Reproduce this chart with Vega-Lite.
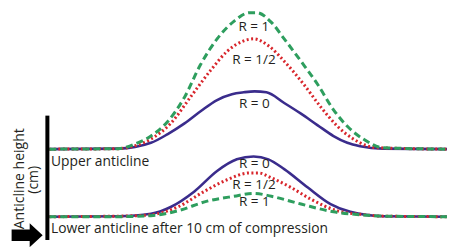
{
  "$schema": "https://vega.github.io/schema/vega-lite/v6.json",
  "width": 453,
  "height": 247,
  "padding": 0,
  "autosize": {"type": "fit", "contains": "padding"},
  "background": "white",
  "config": {"view": {"stroke": null}},
  "datasets": {
    "curves": [
      {"R": "0", "anticline": "upper", "x": 11.04, "y": 9.35},
      {"R": "0", "anticline": "upper", "x": 26.49, "y": 9.4},
      {"R": "0", "anticline": "upper", "x": 33.77, "y": 10.0},
      {"R": "0", "anticline": "upper", "x": 37.53, "y": 10.9},
      {"R": "0", "anticline": "upper", "x": 41.28, "y": 12.0},
      {"R": "0", "anticline": "upper", "x": 45.03, "y": 13.3},
      {"R": "0", "anticline": "upper", "x": 48.57, "y": 14.4},
      {"R": "0", "anticline": "upper", "x": 51.88, "y": 15.0},
      {"R": "0", "anticline": "upper", "x": 54.53, "y": 15.2},
      {"R": "0", "anticline": "upper", "x": 56.95, "y": 15.3},
      {"R": "0", "anticline": "upper", "x": 59.6, "y": 15.2},
      {"R": "0", "anticline": "upper", "x": 63.58, "y": 14.1},
      {"R": "0", "anticline": "upper", "x": 67.33, "y": 13.0},
      {"R": "0", "anticline": "upper", "x": 71.08, "y": 11.8},
      {"R": "0", "anticline": "upper", "x": 74.61, "y": 10.7},
      {"R": "0", "anticline": "upper", "x": 77.7, "y": 10.0},
      {"R": "0", "anticline": "upper", "x": 80.57, "y": 9.65},
      {"R": "0", "anticline": "upper", "x": 85.65, "y": 9.4},
      {"R": "0", "anticline": "upper", "x": 100, "y": 9.35},

      {"R": "1/2", "anticline": "upper", "x": 11.04, "y": 9.35},
      {"R": "1/2", "anticline": "upper", "x": 26.49, "y": 9.4},
      {"R": "1/2", "anticline": "upper", "x": 30.24, "y": 9.7},
      {"R": "1/2", "anticline": "upper", "x": 33.77, "y": 10.4},
      {"R": "1/2", "anticline": "upper", "x": 38.19, "y": 12.0},
      {"R": "1/2", "anticline": "upper", "x": 42.6, "y": 14.7},
      {"R": "1/2", "anticline": "upper", "x": 47.02, "y": 17.4},
      {"R": "1/2", "anticline": "upper", "x": 50.77, "y": 19.4},
      {"R": "1/2", "anticline": "upper", "x": 54.53, "y": 20.5},
      {"R": "1/2", "anticline": "upper", "x": 56.73, "y": 20.7},
      {"R": "1/2", "anticline": "upper", "x": 60.04, "y": 20.0},
      {"R": "1/2", "anticline": "upper", "x": 63.58, "y": 18.4},
      {"R": "1/2", "anticline": "upper", "x": 67.99, "y": 16.0},
      {"R": "1/2", "anticline": "upper", "x": 71.74, "y": 13.7},
      {"R": "1/2", "anticline": "upper", "x": 75.5, "y": 11.7},
      {"R": "1/2", "anticline": "upper", "x": 79.03, "y": 10.4},
      {"R": "1/2", "anticline": "upper", "x": 84.33, "y": 9.5},
      {"R": "1/2", "anticline": "upper", "x": 100, "y": 9.35},

      {"R": "1", "anticline": "upper", "x": 11.04, "y": 9.35},
      {"R": "1", "anticline": "upper", "x": 26.49, "y": 9.4},
      {"R": "1", "anticline": "upper", "x": 30.24, "y": 9.9},
      {"R": "1", "anticline": "upper", "x": 33.77, "y": 10.7},
      {"R": "1", "anticline": "upper", "x": 37.53, "y": 12.2},
      {"R": "1", "anticline": "upper", "x": 41.28, "y": 14.7},
      {"R": "1", "anticline": "upper", "x": 44.81, "y": 18.0},
      {"R": "1", "anticline": "upper", "x": 48.57, "y": 20.7},
      {"R": "1", "anticline": "upper", "x": 52.32, "y": 22.5},
      {"R": "1", "anticline": "upper", "x": 55.85, "y": 23.4},
      {"R": "1", "anticline": "upper", "x": 57.4, "y": 23.4},
      {"R": "1", "anticline": "upper", "x": 60.71, "y": 22.4},
      {"R": "1", "anticline": "upper", "x": 63.58, "y": 20.7},
      {"R": "1", "anticline": "upper", "x": 67.33, "y": 18.4},
      {"R": "1", "anticline": "upper", "x": 71.08, "y": 16.0},
      {"R": "1", "anticline": "upper", "x": 74.61, "y": 13.4},
      {"R": "1", "anticline": "upper", "x": 77.7, "y": 11.7},
      {"R": "1", "anticline": "upper", "x": 81.24, "y": 10.4},
      {"R": "1", "anticline": "upper", "x": 85.65, "y": 9.5},
      {"R": "1", "anticline": "upper", "x": 100, "y": 9.35},

      {"R": "0", "anticline": "lower", "x": 11.04, "y": 2.4},
      {"R": "0", "anticline": "lower", "x": 26.49, "y": 2.45},
      {"R": "0", "anticline": "lower", "x": 33.77, "y": 2.7},
      {"R": "0", "anticline": "lower", "x": 38.19, "y": 3.4},
      {"R": "0", "anticline": "lower", "x": 43.49, "y": 5.0},
      {"R": "0", "anticline": "lower", "x": 48.57, "y": 7.1},
      {"R": "0", "anticline": "lower", "x": 52.98, "y": 8.3},
      {"R": "0", "anticline": "lower", "x": 56.73, "y": 8.6},
      {"R": "0", "anticline": "lower", "x": 60.04, "y": 8.3},
      {"R": "0", "anticline": "lower", "x": 63.58, "y": 7.3},
      {"R": "0", "anticline": "lower", "x": 68.87, "y": 5.4},
      {"R": "0", "anticline": "lower", "x": 73.95, "y": 3.7},
      {"R": "0", "anticline": "lower", "x": 78.37, "y": 2.9},
      {"R": "0", "anticline": "lower", "x": 85.65, "y": 2.45},
      {"R": "0", "anticline": "lower", "x": 100, "y": 2.4},

      {"R": "1/2", "anticline": "lower", "x": 11.04, "y": 2.4},
      {"R": "1/2", "anticline": "lower", "x": 26.49, "y": 2.45},
      {"R": "1/2", "anticline": "lower", "x": 33.77, "y": 2.6},
      {"R": "1/2", "anticline": "lower", "x": 39.74, "y": 3.4},
      {"R": "1/2", "anticline": "lower", "x": 45.7, "y": 5.0},
      {"R": "1/2", "anticline": "lower", "x": 50.77, "y": 6.2},
      {"R": "1/2", "anticline": "lower", "x": 55.85, "y": 6.9},
      {"R": "1/2", "anticline": "lower", "x": 57.84, "y": 6.9},
      {"R": "1/2", "anticline": "lower", "x": 60.71, "y": 6.4},
      {"R": "1/2", "anticline": "lower", "x": 65.12, "y": 5.4},
      {"R": "1/2", "anticline": "lower", "x": 69.54, "y": 4.2},
      {"R": "1/2", "anticline": "lower", "x": 75.5, "y": 3.0},
      {"R": "1/2", "anticline": "lower", "x": 80.57, "y": 2.65},
      {"R": "1/2", "anticline": "lower", "x": 86.09, "y": 2.45},
      {"R": "1/2", "anticline": "lower", "x": 100, "y": 2.4},

      {"R": "1", "anticline": "lower", "x": 11.04, "y": 2.4},
      {"R": "1", "anticline": "lower", "x": 26.49, "y": 2.4},
      {"R": "1", "anticline": "lower", "x": 33.77, "y": 2.5},
      {"R": "1", "anticline": "lower", "x": 39.74, "y": 3.0},
      {"R": "1", "anticline": "lower", "x": 46.36, "y": 4.0},
      {"R": "1", "anticline": "lower", "x": 52.32, "y": 4.5},
      {"R": "1", "anticline": "lower", "x": 56.73, "y": 4.8},
      {"R": "1", "anticline": "lower", "x": 60.71, "y": 4.5},
      {"R": "1", "anticline": "lower", "x": 67.33, "y": 3.7},
      {"R": "1", "anticline": "lower", "x": 74.61, "y": 2.9},
      {"R": "1", "anticline": "lower", "x": 80.57, "y": 2.6},
      {"R": "1", "anticline": "lower", "x": 86.09, "y": 2.45},
      {"R": "1", "anticline": "lower", "x": 100, "y": 2.4}
    ],
    "rLabels": [
      {"x": 56.8, "y": 21.9, "text": "R = 1"},
      {"x": 56.8, "y": 18.5, "text": "R = 1/2"},
      {"x": 56.9, "y": 14.0, "text": "R = 0"},
      {"x": 56.9, "y": 7.8, "text": "R = 0"},
      {"x": 56.8, "y": 5.7, "text": "R = 1/2"},
      {"x": 56.9, "y": 3.9, "text": "R = 1"}
    ],
    "notes": [
      {"x": 11.4, "y": 8.0, "text": "Upper anticline"},
      {"x": 11.4, "y": 1.1, "text": "Lower anticline after 10 cm of compression"}
    ],
    "axisLine": [
      {"x": 10.6, "y": 0, "y2": 12.8}
    ],
    "arrow": [
      {"x": 6.07, "y": 0.5}
    ],
    "axisTitle": [
      {"x": 4.4, "y": 6.3, "text": "Anticline height"},
      {"x": 7.7, "y": 6.2, "text": "(cm)"}
    ]
  },
  "encoding": {
    "x": {"field": "x", "type": "quantitative", "axis": null, "scale": {"domain": [0, 100], "nice": false, "zero": false}},
    "y": {"field": "y", "type": "quantitative", "axis": null, "scale": {"domain": [0, 24.7], "nice": false, "zero": false}}
  },
  "layer": [
    {
      "data": {"name": "curves"},
      "transform": [{"filter": "datum.R === '0'"}],
      "mark": {"type": "line", "color": "#3a2c8c", "strokeWidth": 2.6, "interpolate": "monotone"},
      "encoding": {"detail": {"field": "anticline"}}
    },
    {
      "data": {"name": "curves"},
      "transform": [{"filter": "datum.R === '1/2'"}],
      "mark": {"type": "line", "color": "#d8262c", "strokeWidth": 3, "strokeDash": [2, 2.5], "interpolate": "monotone"},
      "encoding": {"detail": {"field": "anticline"}}
    },
    {
      "data": {"name": "curves"},
      "transform": [{"filter": "datum.R === '1'"}],
      "mark": {"type": "line", "color": "#2e9e5e", "strokeWidth": 3, "strokeDash": [7, 4], "interpolate": "monotone"},
      "encoding": {"detail": {"field": "anticline"}}
    },
    {
      "data": {"name": "axisLine"},
      "mark": {"type": "rule", "color": "black", "strokeWidth": 4},
      "encoding": {"y2": {"field": "y2"}}
    },
    {
      "data": {"name": "arrow"},
      "mark": {"type": "point", "filled": true, "color": "black", "opacity": 1, "strokeWidth": 0, "size": 1024, "shape": "M-0.97,-0.36L0.16,-0.36L0.16,-0.75L0.97,0L0.16,0.75L0.16,0.36L-0.97,0.36Z"}
    },
    {
      "data": {"name": "rLabels"},
      "mark": {"type": "text", "font": "Open Sans", "fontSize": 13.5, "color": "#231f20", "align": "center", "baseline": "middle"},
      "encoding": {"text": {"field": "text"}}
    },
    {
      "data": {"name": "notes"},
      "mark": {"type": "text", "font": "Open Sans", "fontSize": 13.8, "color": "#231f20", "align": "left", "baseline": "middle"},
      "encoding": {"text": {"field": "text"}}
    },
    {
      "data": {"name": "axisTitle"},
      "mark": {"type": "text", "font": "Open Sans", "fontSize": 14, "color": "#231f20", "align": "center", "baseline": "middle", "angle": 270},
      "encoding": {"text": {"field": "text"}}
    }
  ]
}
